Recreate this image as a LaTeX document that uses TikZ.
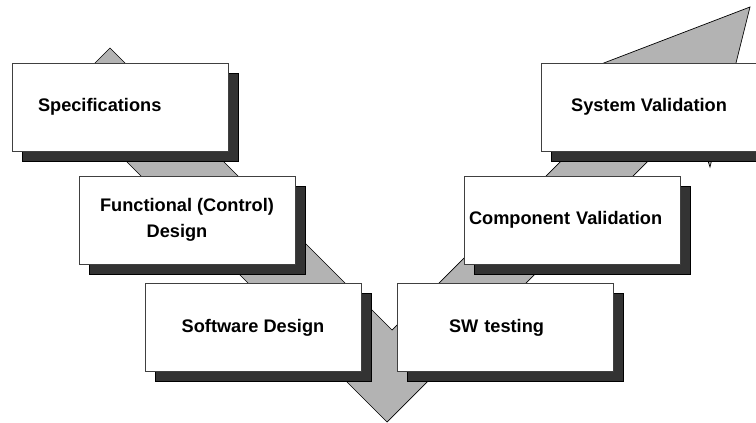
\documentclass[tikz,border=0pt]{standalone}
\usepackage{fontspec}
\setmainfont{Liberation Sans}
\usetikzlibrary{calc,shadows}
\definecolor{vgray}{HTML}{B3B3B3}
\definecolor{shadowgray}{HTML}{333333}
\tikzset{phase/.style={draw=black!75,fill=white,line width=0.8pt,minimum width=216pt,minimum height=88pt,inner sep=0pt,align=center,
    font=\fontsize{18.2}{26}\selectfont\bfseries,
    general shadow={fill=shadowgray,draw=black,line width=0.6pt,shadow xshift=10pt,shadow yshift=-10pt}}}

\begin{document}
\begin{tikzpicture}[x=1pt,y=-1pt]
\useasboundingbox (0,0) rectangle (756,423);
\coordinate (A) at (110,48);
\coordinate (B) at (61.5,96.5);
\coordinate (C) at (387,422);
\coordinate (D) at (693,116);
\coordinate (E) at (710,167);
\coordinate (F) at (750,7);
\coordinate (G) at (596,66);
\coordinate (H) at (628,94);
\coordinate (N) at (392,330);
% the V behind the boxes
\filldraw[fill=vgray,draw=black,line width=0.7pt] (A) -- (B) -- (C) -- (D) -- (E) -- (F) -- (G) -- (H) -- (N) -- cycle;

\node[phase,text width=164pt,align=left] (spec) at (120,107) {Specifications};
\node[phase] (func) at (187,220) {Functional (Control)\\Design\hspace*{20pt}};
\node[phase] (soft) at (253,327.5) {Software Design};
\node[phase,text width=112pt,align=left] (swt) at (505,327.5) {SW testing};
\node[phase,text width=206pt,align=left] (comp) at (572,220) {Component Validation};
\node[phase] (sys) at (649,107) {System Validation};
\end{tikzpicture}
\end{document}
